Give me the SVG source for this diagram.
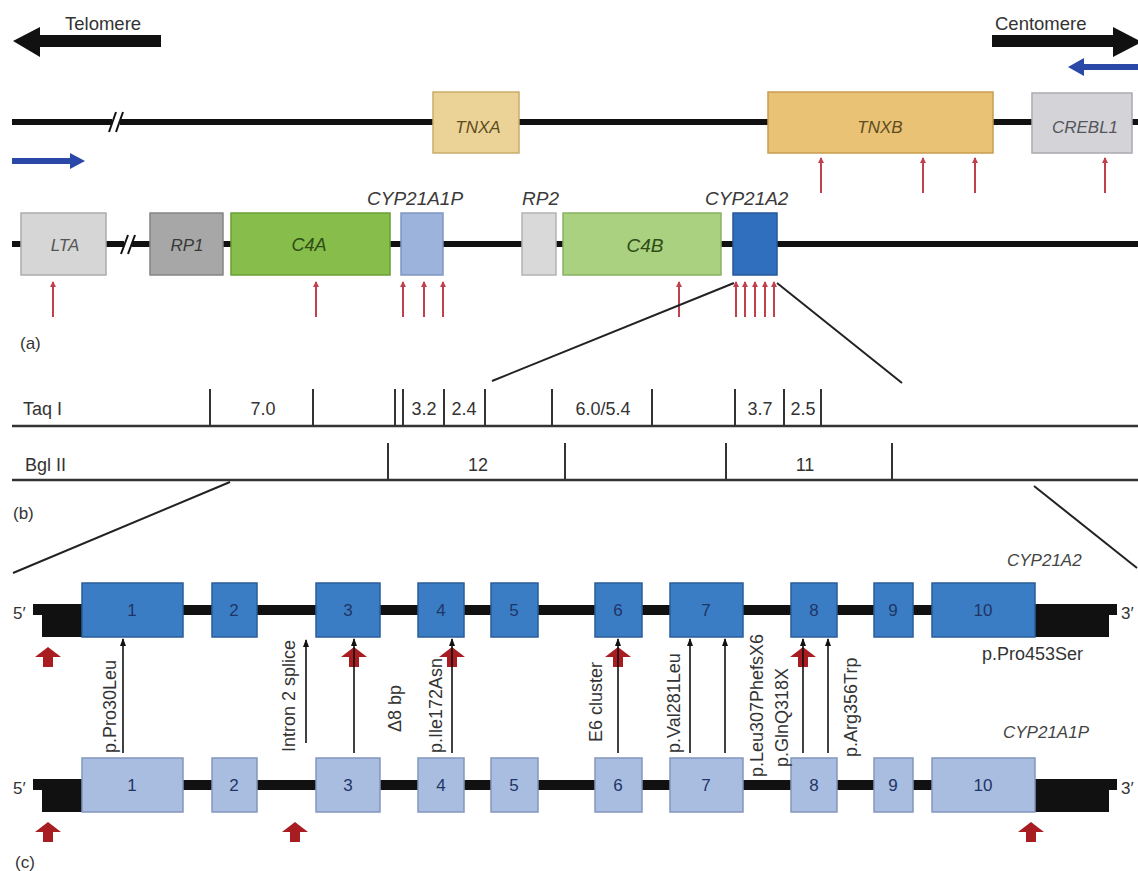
<svg xmlns="http://www.w3.org/2000/svg" width="1138" height="871" viewBox="0 0 1138 871">
<style>
text{font-family:"Liberation Sans",Arial,sans-serif;}
.t{font-size:18px;fill:#333;}
.gl{font-size:17px;font-style:italic;text-anchor:middle;}
.ab{font-size:19px;font-style:italic;fill:#3a3a3a;}
.chrom{stroke:#111;stroke-width:6;fill:none;}
.brk{stroke:#111;stroke-width:2;}
.rt{stroke:#c0404c;stroke-width:2;marker-end:url(#rhead);}
.map{stroke:#333;stroke-width:2.5;fill:none;}
.mt{stroke:#333;stroke-width:2;}
.zoom{stroke:#222;stroke-width:2;fill:none;}
.ba{stroke:#111;stroke-width:1.6;marker-end:url(#bhead);}
.ex2 rect{fill:#3b7dc4;stroke:#2a5d99;stroke-width:1.5;}
.ex1 rect{fill:#a9bde1;stroke:#8496bd;stroke-width:1.5;}
.en{font-size:17px;fill:#1f3566;text-anchor:middle;}
.big{fill:#a81d21;}
.rot{font-size:18px;fill:#333;}
</style>
<defs>
<marker id="rhead" markerUnits="userSpaceOnUse" markerWidth="6" markerHeight="6" viewBox="0 0 6 6" refX="5" refY="3" orient="auto"><path d="M0,0 L6,3 L0,6 Z" fill="#c0404c"/></marker>
<marker id="bhead" markerUnits="userSpaceOnUse" markerWidth="8" markerHeight="6" viewBox="0 0 8 6" refX="7" refY="3" orient="auto"><path d="M0,0 L8,3 L0,6 Z" fill="#111"/></marker>
<path id="bigup" d="M0,0 L13,10 L5,10 L5,20 L-5,20 L-5,10 L-13,10 Z"/>
</defs>

<!-- orientation arrows -->
<g id="telomere">
<polygon points="13,41 40,27 40,35 161,35 161,47 40,47 40,57" fill="#111"/>
<text x="65" y="30" class="t" style="font-size:18.5px">Telomere</text>
</g>
<g id="centomere">
<polygon points="992,35 1113,35 1113,27 1142,42 1113,57 1113,47 992,47" fill="#111"/>
<text x="995" y="30" class="t" style="font-size:18.5px">Centomere</text>
</g>
<g id="blue-arrows">
<polygon points="12,158 70,158 70,153 85,161 70,169 70,164 12,164" fill="#2a48a8"/>
<polygon points="1068,67 1084,58 1084,64 1140,64 1140,70 1084,70 1084,76" fill="#2a48a8"/>
</g>

<!-- (a) row 1 -->
<line class="chrom" x1="12" y1="122" x2="1138" y2="122"/>
<g id="break1">
<rect x="112" y="115" width="8" height="14" fill="#fff"/>
<line class="brk" x1="109" y1="132" x2="116" y2="112"/>
<line class="brk" x1="116" y1="132" x2="123" y2="112"/>
</g>
<g id="TNXA">
<rect x="433" y="92" width="86" height="61" fill="#ebd296" stroke="#c9ad6c" stroke-width="1.5"/>
<text x="478" y="133" class="gl" fill="#5e4c20">TNXA</text>
</g>
<g id="TNXB">
<rect x="768" y="92" width="225" height="61" fill="#e9c276" stroke="#c79d4e" stroke-width="1.5"/>
<text x="880" y="133" class="gl" fill="#5e4c20">TNXB</text>
</g>
<g id="CREBL1">
<rect x="1032" y="93" width="100" height="60" fill="#d4d4d8" stroke="#aaaab0" stroke-width="1.5"/>
<text x="1085" y="133" class="gl" fill="#55555c">CREBL1</text>
</g>

<!-- (a) row 2 -->
<line class="chrom" x1="12" y1="244" x2="1138" y2="244"/>
<g id="break2">
<rect x="124" y="237" width="8" height="14" fill="#fff"/>
<line class="brk" x1="121" y1="254" x2="128" y2="235"/>
<line class="brk" x1="128" y1="254" x2="135" y2="235"/>
</g>
<g id="LTA">
<rect x="21" y="213" width="85" height="62" fill="#d6d6d6" stroke="#acacac" stroke-width="1.5"/>
<text x="65" y="251" class="gl" fill="#555">LTA</text>
</g>
<g id="RP1">
<rect x="150" y="213" width="73" height="62" fill="#a7a7a7" stroke="#858585" stroke-width="1.5"/>
<text x="187" y="251" class="gl" fill="#383838">RP1</text>
</g>
<g id="C4A">
<rect x="231" y="213" width="159" height="62" fill="#87be4b" stroke="#6a9d35" stroke-width="1.5"/>
<text x="309" y="251" class="gl" fill="#2e4d17" style="font-size:18px">C4A</text>
</g>
<g id="CYP21A1P">
<rect x="401" y="213" width="42" height="62" fill="#9cb3dc" stroke="#7f95c0" stroke-width="1.5"/>
<text x="367" y="205" class="ab">CYP21A1P</text>
</g>
<g id="RP2">
<rect x="522" y="213" width="34" height="62" fill="#d9d9d9" stroke="#b2b2b2" stroke-width="1.5"/>
<text x="522" y="205" class="ab">RP2</text>
</g>
<g id="C4B">
<rect x="563" y="213" width="158" height="62" fill="#a9d17f" stroke="#89b262" stroke-width="1.5"/>
<text x="645" y="252" class="gl" fill="#2e4d17" style="font-size:19px">C4B</text>
</g>
<g id="CYP21A2">
<rect x="733" y="213" width="44" height="62" fill="#2f6fbe" stroke="#24589a" stroke-width="1.5"/>
<text x="705" y="205" class="ab">CYP21A2</text>
</g>

<g id="mutation-ticks">
<line class="rt" x1="821" y1="193" x2="821" y2="158"/>
<line class="rt" x1="923" y1="193" x2="923" y2="158"/>
<line class="rt" x1="975" y1="193" x2="975" y2="158"/>
<line class="rt" x1="1105" y1="193" x2="1105" y2="158"/>
<line class="rt" x1="53" y1="317" x2="53" y2="282"/>
<line class="rt" x1="316" y1="317" x2="316" y2="282"/>
<line class="rt" x1="403" y1="317" x2="403" y2="282"/>
<line class="rt" x1="424" y1="317" x2="424" y2="282"/>
<line class="rt" x1="443" y1="317" x2="443" y2="282"/>
<line class="rt" x1="679" y1="317" x2="679" y2="282"/>
<line class="rt" x1="736" y1="317" x2="736" y2="282"/>
<line class="rt" x1="745" y1="317" x2="745" y2="282"/>
<line class="rt" x1="755" y1="317" x2="755" y2="282"/>
<line class="rt" x1="765" y1="317" x2="765" y2="282"/>
<line class="rt" x1="774" y1="317" x2="774" y2="282"/>
</g>
<text x="20" y="349" class="t" style="font-size:17px">(a)</text>

<!-- (b) restriction maps -->
<g id="taqI">
<line class="map" x1="12" y1="426" x2="1138" y2="426"/>
<path class="mt" d="M210,389V426M313,389V426M395,389V426M403,389V426M444,389V426M485,389V426M552,389V426M652,389V426M735,389V426M784,389V426M821,389V426"/>
<text x="23" y="415" class="t">Taq I</text>
<g class="t" text-anchor="middle">
<text x="263" y="415">7.0</text>
<text x="424" y="415">3.2</text>
<text x="464" y="415">2.4</text>
<text x="603" y="415">6.0/5.4</text>
<text x="760" y="415">3.7</text>
<text x="803" y="415">2.5</text>
</g>
</g>
<g id="bglII">
<line class="map" x1="12" y1="480" x2="1138" y2="480"/>
<path class="mt" d="M388,443V480M565,443V480M726,443V480M892,443V480"/>
<text x="25" y="471" class="t">Bgl II</text>
<g class="t" text-anchor="middle">
<text x="478" y="471">12</text>
<text x="805" y="471">11</text>
</g>
</g>
<text x="13" y="519" class="t" style="font-size:17px">(b)</text>

<!-- (c) gene structures -->
<g id="CYP21A2-gene">
<rect x="40" y="605" width="1072" height="10" fill="#111"/>
<polygon points="33,604 82,604 82,637 42,637 42,615 33,615" fill="#111"/>
<polygon points="1035,604 1117,604 1117,615 1109,615 1109,637 1035,637" fill="#111"/>
<g class="ex2">
<rect x="82" y="583" width="101" height="54"/>
<rect x="212" y="583" width="45" height="54"/>
<rect x="316" y="583" width="64" height="54"/>
<rect x="418" y="583" width="46" height="54"/>
<rect x="491" y="583" width="47" height="54"/>
<rect x="595" y="583" width="47" height="54"/>
<rect x="670" y="583" width="73" height="54"/>
<rect x="791" y="583" width="46" height="54"/>
<rect x="874" y="583" width="39" height="54"/>
<rect x="932" y="583" width="103" height="54"/>
</g>
<g class="en">
<text x="132" y="616">1</text><text x="234" y="616">2</text><text x="348" y="616">3</text><text x="441" y="616">4</text><text x="514" y="616">5</text><text x="618" y="616">6</text><text x="706" y="616">7</text><text x="814" y="616">8</text><text x="893" y="616">9</text><text x="983" y="616">10</text>
</g>
<text x="13" y="619" class="t" style="font-size:17px">5′</text>
<text x="1121" y="619" class="t" style="font-size:17px">3′</text>
<text x="1007" y="566" class="t" style="font-size:17px;font-style:italic;fill:#444">CYP21A2</text>
<text x="982" y="660" class="t">p.Pro453Ser</text>
</g>

<g id="CYP21A1P-gene">
<rect x="40" y="780" width="1072" height="10" fill="#111"/>
<polygon points="33,779 82,779 82,812 42,812 42,790 33,790" fill="#111"/>
<polygon points="1035,779 1117,779 1117,790 1109,790 1109,812 1035,812" fill="#111"/>
<g class="ex1">
<rect x="82" y="758" width="101" height="54"/>
<rect x="212" y="758" width="45" height="54"/>
<rect x="316" y="758" width="64" height="54"/>
<rect x="418" y="758" width="46" height="54"/>
<rect x="491" y="758" width="47" height="54"/>
<rect x="595" y="758" width="47" height="54"/>
<rect x="670" y="758" width="73" height="54"/>
<rect x="791" y="758" width="46" height="54"/>
<rect x="874" y="758" width="39" height="54"/>
<rect x="932" y="758" width="103" height="54"/>
</g>
<g class="en">
<text x="132" y="791">1</text><text x="234" y="791">2</text><text x="348" y="791">3</text><text x="441" y="791">4</text><text x="514" y="791">5</text><text x="618" y="791">6</text><text x="706" y="791">7</text><text x="814" y="791">8</text><text x="893" y="791">9</text><text x="983" y="791">10</text>
</g>
<text x="13" y="794" class="t" style="font-size:17px">5′</text>
<text x="1121" y="794" class="t" style="font-size:17px">3′</text>
<text x="1003" y="738" class="t" style="font-size:17px;font-style:italic;fill:#444">CYP21A1P</text>
</g>
<text x="15" y="868" class="t" style="font-size:17px">(c)</text>

<g id="red-arrows" class="big">
<use href="#bigup" x="48" y="647"/>
<use href="#bigup" x="354" y="647"/>
<use href="#bigup" x="452" y="647"/>
<use href="#bigup" x="618" y="647"/>
<use href="#bigup" x="803" y="647"/>
<use href="#bigup" x="48" y="822"/>
<use href="#bigup" x="295" y="822"/>
<use href="#bigup" x="1031" y="822"/>
</g>

<g id="connectors">
<line class="zoom" x1="734" y1="283" x2="492" y2="381"/>
<line class="zoom" x1="777" y1="283" x2="902" y2="383"/>
<line class="zoom" x1="230" y1="482" x2="13" y2="573"/>
<line class="zoom" x1="1034" y1="486" x2="1137" y2="568"/>
<line class="ba" x1="123" y1="753" x2="123" y2="639"/>
<line class="ba" x1="306" y1="743" x2="306" y2="640"/>
<line class="ba" x1="354" y1="753" x2="354" y2="639"/>
<line class="ba" x1="452" y1="753" x2="452" y2="639"/>
<line class="ba" x1="618" y1="753" x2="618" y2="639"/>
<line class="ba" x1="690" y1="753" x2="690" y2="639"/>
<line class="ba" x1="725" y1="753" x2="725" y2="639"/>
<line class="ba" x1="803" y1="753" x2="803" y2="639"/>
<line class="ba" x1="828" y1="753" x2="828" y2="639"/>
</g>

<g id="mutation-labels" class="rot">
<text transform="translate(116,753) rotate(-90)">p.Pro30Leu</text>
<text transform="translate(295,752) rotate(-90)">Intron 2 splice</text>
<text transform="translate(401,732) rotate(-90)">Δ8 bp</text>
<text transform="translate(442,753) rotate(-90)">p.Ile172Asn</text>
<text transform="translate(602,742) rotate(-90)">E6 cluster</text>
<text transform="translate(680,753) rotate(-90)">p.Val281Leu</text>
<text transform="translate(763,777) rotate(-90)">p.Leu307PhefsX6</text>
<text transform="translate(788,767) rotate(-90)">p.GlnQ318X</text>
<text transform="translate(857,757) rotate(-90)">p.Arg356Trp</text>
</g>
</svg>
